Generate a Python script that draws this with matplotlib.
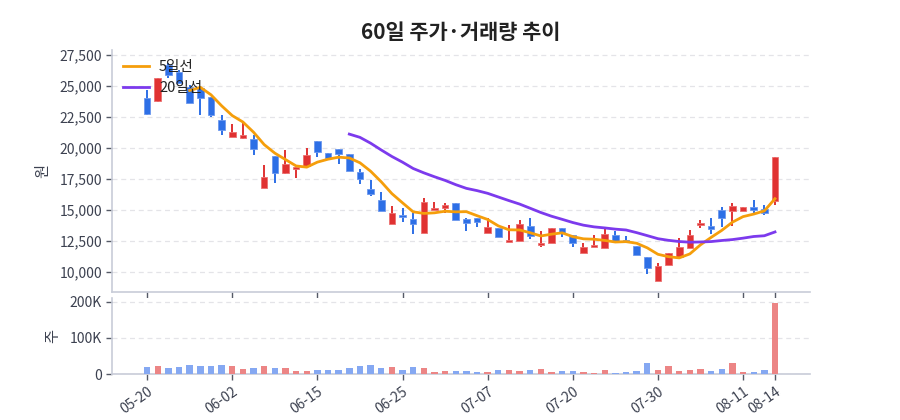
import matplotlib
matplotlib.use('Agg')
import matplotlib.pyplot as plt
import numpy as np

plt.rcParams['font.family'] = ['Noto Sans CJK KR', 'DejaVu Sans']

# ---- data ----
opens = [24030, 23790, 26690, 26130, 24920, 24840, 24110, 22260, 20890, 20810,
         20730, 16780, 19360, 17980, 18270, 18550, 20570, 19600, 19920, 19520,
         18070, 16690, 15810, 13870, 14600, 14280, 13150, 15000, 15160, 15570,
         14280, 14360, 13150, 13550, 12440, 12500, 13710, 12180, 12340, 13550,
         12980, 11530, 12040, 11940, 12980, 12580, 12100, 11210, 9270, 10570,
         11210, 11940, 13790, 13710, 15000, 14920, 14920, 15240, 15080, 15730]
highs = [24680, 25670, 26850, 26290, 25080, 24920, 24110, 22660, 21940, 22020,
         21050, 18630, 19360, 19840, 18470, 20000, 20570, 19600, 19920, 19520,
         18310, 17420, 16450, 15320, 15160, 14760, 15970, 15650, 15570, 15570,
         14360, 14360, 14360, 13550, 13790, 14190, 14360, 13310, 13550, 13550,
         12980, 12340, 12980, 13470, 13310, 12900, 12100, 11210, 10730, 11530,
         12720, 13390, 14190, 14360, 15270, 15570, 15220, 15810, 15400, 19270]
lows = [22700, 23740, 25650, 25160, 23630, 22660, 22500, 21050, 20890, 20730,
        19440, 16780, 17180, 17900, 17580, 18550, 19280, 19190, 18710, 18150,
        17100, 16130, 14920, 13870, 14030, 13070, 13150, 15000, 14760, 14190,
        13310, 13630, 13150, 12820, 12440, 12500, 12660, 12020, 12340, 12820,
        12020, 11530, 12040, 11940, 12500, 12500, 11370, 9840, 9270, 10570,
        11210, 11940, 13550, 13070, 13630, 13710, 14920, 14760, 14600, 15400]
closes = [22740, 25670, 25890, 25240, 23630, 24030, 22660, 21450, 21290, 21050,
          19920, 17660, 18010, 18710, 18470, 19440, 19680, 19190, 19520, 18150,
          17500, 16290, 14920, 14760, 14440, 13870, 15650, 15160, 15400, 14190,
          13950, 14030, 13630, 12820, 12620, 13870, 12900, 12340, 13550, 13150,
          12340, 12020, 12180, 13070, 12500, 12500, 11370, 10320, 10480, 11530,
          12020, 12980, 13980, 13470, 14360, 15320, 15220, 15000, 14760, 19270]
volumes = [20000, 22000, 16500, 19000, 25700, 23000, 22000, 24000, 23000, 14700,
           16500, 23000, 17400, 16500, 9000, 8300, 11000, 12000, 11000, 17400,
           21000, 25700, 17400, 20000, 11000, 19000, 16500, 6400, 8300, 9000,
           9000, 6400, 5500, 12000, 11000, 8300, 11000, 13800, 6400, 9000,
           8300, 6400, 3700, 11000, 3700, 5500, 9000, 31000, 12000, 23000,
           8300, 11000, 13800, 8300, 13800, 31000, 6400, 5500, 12000, 197000]
tick_labels = ['05-20', '06-02', '06-15', '06-25', '07-07', '07-20', '07-30', '08-11', '08-14']
ma_windows = [5, 20]
ma_labels = ['5일선', '20일선']

# ---- styling ----
UP = '#e03232'
DOWN = '#2d6fe6'
UP_V = '#ec8585'
DOWN_V = '#85a8f2'
MA_COLORS = ['#f59e0b', '#7c3aed']
SPINE = '#c8ccd8'
TXT = '#3c4150'

o = np.array(opens, float); h = np.array(highs, float)
l = np.array(lows, float); c = np.array(closes, float)
v = np.array(volumes, float)
n = len(o)
x = np.arange(n)
up = c >= o

fig = plt.figure(figsize=(9, 4.2), dpi=100)
ax = fig.add_axes([0.1248, 0.3055, 0.7752, 0.5755])
axv = fig.add_axes([0.1248, 0.1095, 0.7752, 0.181], sharex=ax)

# candles
ax.vlines(x, l, h, colors=np.where(up, UP, DOWN), linewidth=1.4, zorder=2)
body_bottom = np.minimum(o, c)
body_h = np.maximum(np.abs(c - o), 40)
ax.bar(x, body_h, bottom=body_bottom, width=0.62,
       color=np.where(up, UP, DOWN), edgecolor=np.where(up, '#ec7070', '#6c98ee'),
       linewidth=0.6, zorder=3)

# moving averages
for w, col, lab in zip(ma_windows, MA_COLORS, ma_labels):
    ma = np.convolve(c, np.ones(w) / w, mode='valid')
    ax.plot(x[w - 1:], ma, color=col, linewidth=2, label=lab, zorder=4)

ax.set_ylim(8420, 27900)
ax.set_yticks(np.arange(10000, 27501, 2500))
ax.yaxis.set_major_formatter(matplotlib.ticker.FuncFormatter(lambda val, p: f'{int(val):,}'))
ax.set_xlim(-3.27, n - 1 + 3.29)
ax.grid(axis='y', linestyle=(0, (4, 3)), color='#e4e4e8', linewidth=0.9)
ax.set_axisbelow(True)
ax.set_ylabel('원', color=TXT, fontsize=11, labelpad=6)
leg = ax.legend(loc='upper left', frameon=False, fontsize=10.5, handlelength=1.8,
                handletextpad=0.7, labelspacing=0.45, borderaxespad=0.3,
                bbox_to_anchor=(0.0, 1.0))
for t in leg.get_texts():
    t.set_color('#222222')

# volume
axv.bar(x, v, width=0.6, color=np.where(up, UP_V, DOWN_V), zorder=3)
axv.set_ylim(0, 210000)
axv.set_yticks([0, 100000, 200000])
axv.set_yticklabels(['0', '100K', '200K'])
axv.grid(axis='y', linestyle=(0, (4, 3)), color='#e4e4e8', linewidth=0.9)
axv.set_axisbelow(True)
axv.set_ylabel('주', color=TXT, fontsize=11, labelpad=6)

tick_pos = list(range(0, n, 8)) + [n - 1]
axv.set_xticks(tick_pos)
axv.set_xticklabels(tick_labels, rotation=35, ha='right', rotation_mode='anchor')
plt.setp(ax.get_xticklabels(), visible=False)

for a in (ax, axv):
    for s in ('top', 'right'):
        a.spines[s].set_visible(False)
    for s in ('left', 'bottom'):
        a.spines[s].set_color(SPINE)
        a.spines[s].set_linewidth(1.2)
    a.tick_params(axis='both', colors='#555a66', labelcolor=TXT, labelsize=10, length=4, width=1)

fig.text(0.512, 0.922, '60일 주가·거래량 추이', ha='center', va='center',
         fontsize=15, fontweight='bold', color='#222222')

fig.savefig('out.png', dpi=100)
